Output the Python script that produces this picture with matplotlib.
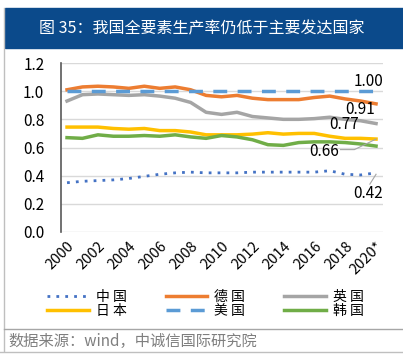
import numpy as np
import matplotlib
matplotlib.use('Agg')
from matplotlib import pyplot as plt
from matplotlib.lines import Line2D

plt.rcParams['font.family'] = ['Noto Sans CJK SC', 'DejaVu Sans']

years = list(range(2000, 2021))
xlabels = ['2000', '2002', '2004', '2006', '2008', '2010', '2012', '2014', '2016', '2018', '2020*']

china = [0.35, 0.36, 0.365, 0.37, 0.38, 0.395, 0.41, 0.42, 0.425, 0.42, 0.42,
         0.42, 0.425, 0.425, 0.425, 0.425, 0.425, 0.435, 0.41, 0.405, 0.42]
germany = [1.01, 1.03, 1.035, 1.03, 1.02, 1.035, 1.02, 1.03, 1.01, 0.97, 0.96,
           0.97, 0.95, 0.94, 0.94, 0.94, 0.955, 0.965, 0.945, 0.93, 0.91]
uk = [0.93, 0.975, 0.98, 0.975, 0.97, 0.975, 0.965, 0.95, 0.92, 0.85, 0.835,
      0.85, 0.82, 0.81, 0.80, 0.80, 0.805, 0.815, 0.80, 0.79, 0.77]
japan = [0.745, 0.745, 0.745, 0.735, 0.73, 0.735, 0.72, 0.72, 0.71, 0.69, 0.69,
         0.69, 0.695, 0.705, 0.695, 0.70, 0.70, 0.68, 0.665, 0.665, 0.66]
usa = [1.00] * 21
korea = [0.67, 0.665, 0.69, 0.68, 0.68, 0.685, 0.68, 0.69, 0.675, 0.665, 0.685,
         0.675, 0.655, 0.62, 0.615, 0.635, 0.64, 0.64, 0.635, 0.625, 0.61]

fig = plt.figure(figsize=(4.03, 3.63), dpi=100)

# title bar
fig.patches.append(plt.Rectangle((5/403, 1 - 48/363), 398/403, 40/363,
                                 transform=fig.transFigure, color='#0B4A8B', zorder=0))
fig.text(0.5, 1 - 29/363, '图 35：我国全要素生产率仍低于主要发达国家', color='white',
         fontsize=11.5, ha='center', va='center')
# frame lines
fig.add_artist(Line2D([4/403, 4/403], [1 - 8/363, 1 - 351/363], color='#BFBFBF', lw=1,
                      transform=fig.transFigure))
fig.add_artist(Line2D([4/403, 1], [1 - 329/363, 1 - 329/363], color='#A6A6A6', lw=1,
                      transform=fig.transFigure))
fig.add_artist(Line2D([0, 1], [1 - 352/363, 1 - 352/363], color='#BFBFBF', lw=1,
                      transform=fig.transFigure))
fig.text(8/403, 1 - 341/363, '数据来源：wind，中诚信国际研究院', color='#7F7F7F',
         fontsize=11, ha='left', va='center')

ax = fig.add_axes([61/403, 1 - 232/363, 322/403, 169/363])
ax.plot(years, china, color='#4472C4', lw=2, ls=(0, (1, 2.2)), label='中 国')
ax.plot(years, germany, color='#ED7D31', lw=2.5, label='德 国')
ax.plot(years, uk, color='#A5A5A5', lw=2.5, label='英 国')
ax.plot(years, japan, color='#FFC000', lw=2.5, label='日 本')
ax.plot(years, usa, color='#5B9BD5', lw=2.5, ls=(0, (4, 3)), label='美 国')
ax.plot(years, korea, color='#70AD47', lw=2.5, label='韩 国')

ax.set_xlim(1999.61, 2020.45)
ax.set_ylim(0, 1.2)
ax.set_yticks(np.arange(0, 1.21, 0.2))
ax.set_yticklabels(['%.1f' % v for v in np.arange(0, 1.21, 0.2)], fontsize=11)
ax.set_xticks(years[::2])
ax.set_xticklabels(xlabels, rotation=45, ha='right', rotation_mode='anchor', fontsize=10.5)
ax.tick_params(length=0, pad=12)
ax.tick_params(axis='x', pad=5)
ax.grid(axis='y', color='#D9D9D9', lw=1)
ax.set_axisbelow(True)
for s in ['top', 'right', 'bottom']:
    ax.spines[s].set_visible(False)
ax.spines['left'].set_color('#595959')
ax.spines['left'].set_linewidth(1.2)

# end labels
ax.text(2020.45, 1.07, '1.00', fontsize=11, ha='right', va='center')
ax.text(2019.9, 0.87, '0.91', fontsize=11, ha='right', va='center')
ax.text(2018.9, 0.76, '0.77', fontsize=11, ha='right', va='center')
ax.text(2017.6, 0.57, '0.66', fontsize=11, ha='right', va='center')
ax.text(2020.45, 0.27, '0.42', fontsize=11, ha='right', va='center')
ax.plot([2017.7, 2018.6, 2020], [0.585, 0.585, 0.66], color='#A5A5A5', lw=0.8)
ax.plot([2019.6, 2020], [0.34, 0.41], color='#A5A5A5', lw=0.8)

# legend: row order 中国 德国 英国 / 日本 美国 韩国
handles, labels = ax.get_legend_handles_labels()
order = [0, 3, 1, 4, 2, 5]
fig.legend([handles[i] for i in order], [labels[i] for i in order], ncol=3, loc='center',
           bbox_to_anchor=(0.51, 1 - 304/363), frameon=False, fontsize=10,
           handlelength=3.0, columnspacing=2.8, labelspacing=0.0, handletextpad=0.5)

fig.savefig('out.png', dpi=100)
